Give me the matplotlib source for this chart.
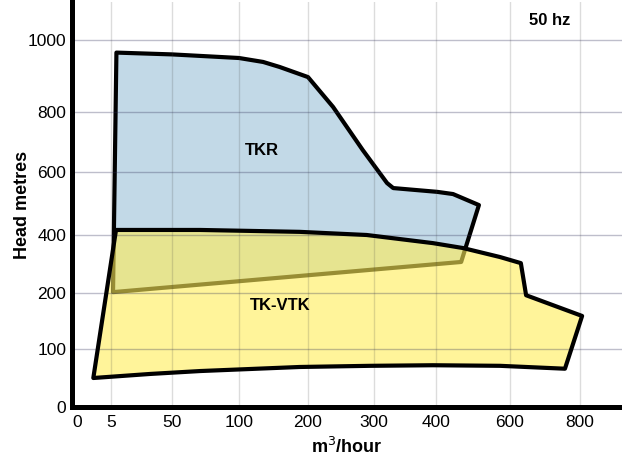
import numpy as np
import matplotlib
matplotlib.use("Agg")
import matplotlib.pyplot as plt
from matplotlib.patches import Polygon

plt.rcParams['font.family'] = ['Liberation Sans', 'DejaVu Sans']

# axis ticks (the chart uses an uneven, piecewise scale)
x_ticks = [0, 5, 50, 100, 200, 300, 400, 600, 800]
y_ticks = [0, 100, 200, 400, 600, 800, 1000]

# TKR envelope (flow m3/h, head m)
tkr_flow = [9, 50, 100, 135, 159, 200, 238, 283, 321, 331, 403, 446, 516, 468, 6.5]
tkr_head = [965, 960, 950, 939, 925, 897, 814, 673, 565, 549, 537, 530, 495, 307, 203]

# TK-VTK envelope
tk_flow = [8.7, 71, 188, 289, 395, 473, 573, 631, 646, 806, 757, 573, 395, 294, 188, 71, 34, 2.4]
tk_head = [416, 416, 410, 400, 372, 355, 324, 303, 196, 159, 66, 71, 72, 71, 69, 62, 57, 50]

# where each tick sits on the page (pixels), used to build the scale
x_anchor = [-5] + x_ticks + [1200]
x_pix = [43, 77, 111, 172, 239, 308, 374, 436, 510, 580, 720]
y_anchor = [-100] + y_ticks + [1400]
y_pix = [-58, 0, 58, 114, 172, 235, 295, 367, 511]


def fwd(a, p):
    return lambda v: np.interp(v, a, p)


def inv(a, p):
    return lambda v: np.interp(v, p, a)


fig = plt.figure(figsize=(6.22, 4.61), dpi=100)
ax = fig.add_axes([72 / 622, 54 / 461, 550 / 622, 405 / 461])

ax.set_xscale('function', functions=(fwd(x_anchor, x_pix), inv(x_anchor, x_pix)))
ax.set_yscale('function', functions=(fwd(y_anchor, y_pix), inv(y_anchor, y_pix)))
ax.set_xlim(np.interp(72, x_pix, x_anchor), np.interp(622, x_pix, x_anchor))
ax.set_ylim(0, np.interp(405, y_pix, y_anchor))

blue = '#C2D9E7'
yellow = '#FFED57'

tkr = np.column_stack([tkr_flow, tkr_head])
tk = np.column_stack([tk_flow, tk_head])

ax.add_patch(Polygon(tkr, closed=True, facecolor=blue, edgecolor='none', zorder=1))
ax.add_patch(Polygon(tkr, closed=True, fill=False, edgecolor='black', lw=3,
                     joinstyle='round', zorder=1.1))
ax.add_patch(Polygon(tk, closed=True, facecolor=yellow, alpha=0.6, edgecolor='none', zorder=1.2))
ax.add_patch(Polygon(tk, closed=True, fill=False, edgecolor='black', lw=3,
                     joinstyle='round', zorder=3))

# grid drawn by hand so the 0 lines are left out
for xv in x_ticks[1:]:
    ax.axvline(xv, color='#404040', alpha=0.18, lw=1, zorder=2)
for yv in y_ticks[1:]:
    ax.axhline(yv, color='#2a2a55', alpha=0.3, lw=1, zorder=2)

ax.set_xticks(x_ticks)
ax.set_xticklabels([str(v) for v in x_ticks])
ax.set_yticks(y_ticks)
ax.set_yticklabels([str(v) for v in y_ticks])
ax.minorticks_off()
ax.tick_params(length=0, labelsize=12.5, pad=6)
ax.tick_params(axis='y', pad=4)

for s in ['top', 'right']:
    ax.spines[s].set_visible(False)
for s in ['left', 'bottom']:
    ax.spines[s].set_linewidth(3.6)
    ax.spines[s].set_zorder(4)

ax.set_xlabel('m$^3$/hour', fontsize=13, fontweight='bold', labelpad=5)
ax.set_ylabel('Head metres', fontsize=13, fontweight='bold', labelpad=-2.5)

ax.text(0.868, 0.955, '50 hz', transform=ax.transAxes, fontsize=12,
        fontweight='bold', ha='center', va='center')
ax.text(133, 673, 'TKR', fontsize=12, fontweight='bold', ha='center', va='center')
ax.text(159, 177, 'TK-VTK', fontsize=12, fontweight='bold', ha='center', va='center')

fig.savefig('out.png', dpi=100)
